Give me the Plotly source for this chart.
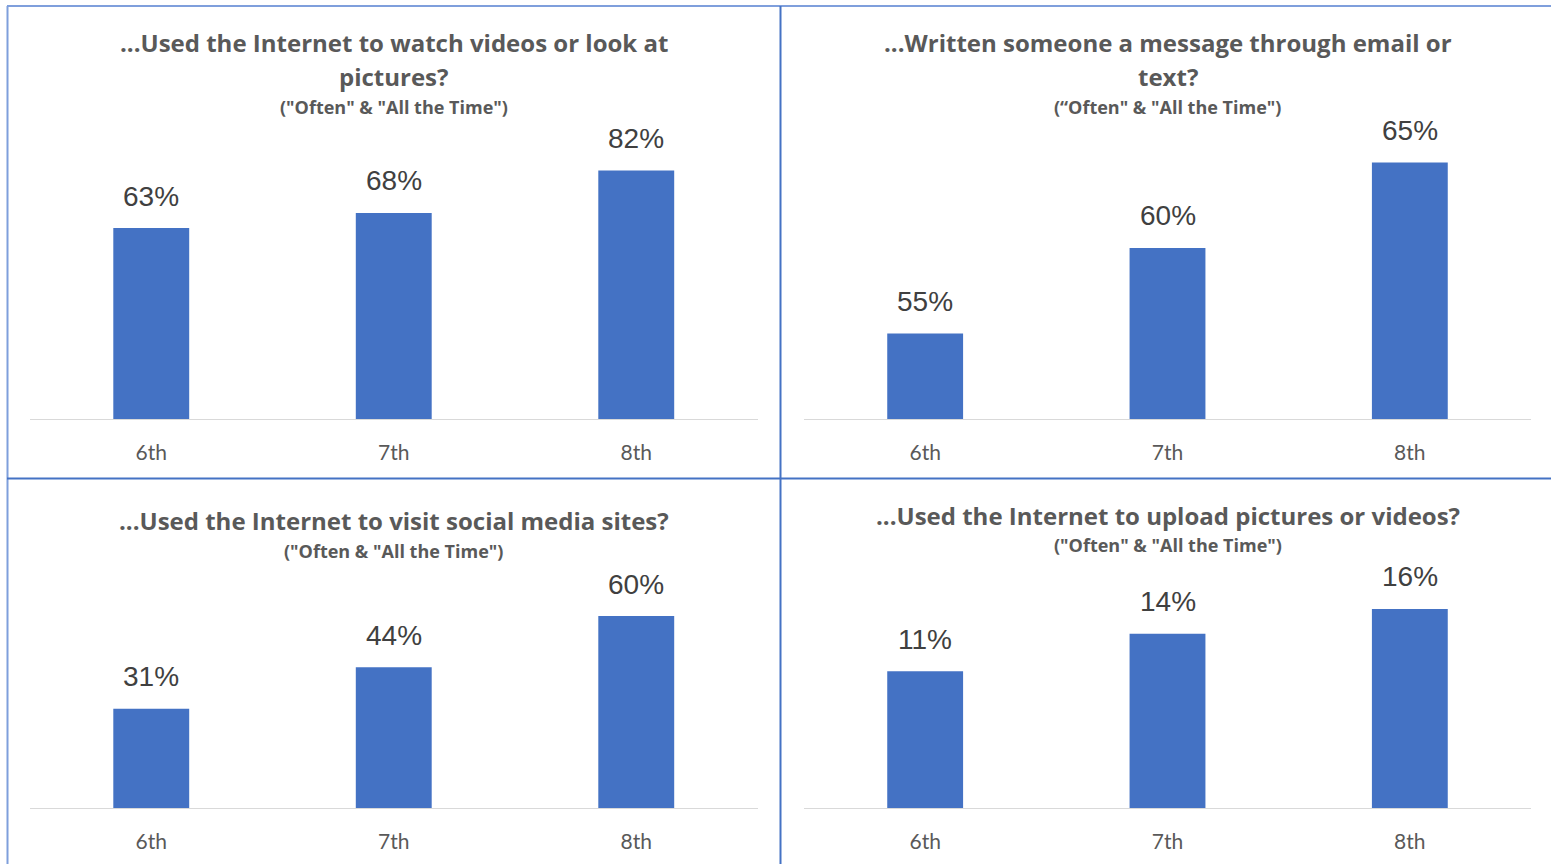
import plotly.graph_objects as go

W, H = 1551, 864

grades = ["6th", "7th", "8th"]
titles = [
    ["...Used the Internet to watch videos or look at", "pictures?"],
    ["...Written someone a message through email or", "text?"],
    ["...Used the Internet to visit social media sites?"],
    ["...Used the Internet to upload pictures or videos?"],
]
subtitles = [
    '("Often" & "All the Time")',
    '(\u201cOften" & "All the Time")',
    '("Often & "All the Time")',
    '("Often" & "All the Time")',
]
watch_videos = [63, 68, 82]
written_message = [55, 60, 65]
social_media = [31, 44, 60]
upload_pictures = [11, 14, 16]
series = [watch_videos, written_message, social_media, upload_pictures]
y_ranges = [[0, 90.1], [50, 65.96], [0, 71.25], [0, 18.33]]

BAR = "#4472C4"
TXT = "#595959"

def px_x(p):
    return p / W

def px_y(p):
    return 1 - p / H

x_doms = [[px_x(30), px_x(757.5)], [px_x(804), px_x(1531)]]
y_doms = [[px_y(419), px_y(146)], [px_y(808), px_y(580)]]

fig = go.Figure()
annotations = []
for i, vals in enumerate(series):
    col = i % 2
    row = i // 2
    n = i + 1
    xa = "x" if n == 1 else f"x{n}"
    ya = "y" if n == 1 else f"y{n}"
    fig.add_trace(go.Bar(x=grades, y=vals, marker=dict(color=BAR, line=dict(width=0)),
                         xaxis=xa, yaxis=ya, width=0.313, hoverinfo="skip", showlegend=False))
    xk = "xaxis" if n == 1 else f"xaxis{n}"
    yk = "yaxis" if n == 1 else f"yaxis{n}"
    fig.update_layout(**{
        xk: dict(domain=x_doms[col], anchor=ya, showline=True, linecolor="#D9D9D9", linewidth=1,
                 showgrid=False, zeroline=False, ticks="outside", ticklen=15,
                 tickcolor="rgba(0,0,0,0)",
                 tickfont=dict(family="Lato, Open Sans, sans-serif", size=21, color=TXT),
                 fixedrange=True),
        yk: dict(domain=y_doms[row], anchor=xa, range=y_ranges[i], visible=False,
                 showgrid=False, zeroline=False, fixedrange=True),
    })
    for g, v in zip(grades, vals):
        annotations.append(dict(x=g, y=v, xref=xa, yref=ya, text=f"{v}%", showarrow=False,
                                yanchor="middle", yshift=32,
                                font=dict(family="Liberation Sans, Arial, sans-serif", size=28, color="#404040")))
    cx = (x_doms[col][0] + x_doms[col][1]) / 2
    if row == 0:
        line_ys = [42, 77]
        sub_y = 107
    else:
        line_ys = [520] if col == 0 else [515]
        sub_y = 551 if col == 0 else 545
    for t, ly in zip(titles[i], line_ys):
        annotations.append(dict(x=cx, y=px_y(ly), xref="paper", yref="paper", text=f"<b>{t}</b>",
                                showarrow=False, xanchor="center", yanchor="middle",
                                font=dict(family="Open Sans, sans-serif", size=24, color=TXT)))
    annotations.append(dict(x=cx, y=px_y(sub_y), xref="paper", yref="paper", text=f"<b>{subtitles[i]}</b>",
                            showarrow=False, xanchor="center", yanchor="middle",
                            font=dict(family="Open Sans, sans-serif", size=18, color=TXT)))

shapes = [
    dict(type="line", xref="paper", yref="paper", x0=px_x(7), x1=1, y0=px_y(6), y1=px_y(6),
         line=dict(color="#7F9FDC", width=2)),
    dict(type="line", xref="paper", yref="paper", x0=px_x(7.5), x1=px_x(7.5), y0=px_y(6), y1=0,
         line=dict(color="#7F9FDC", width=2)),
    dict(type="line", xref="paper", yref="paper", x0=px_x(780.5), x1=px_x(780.5), y0=px_y(6), y1=0,
         line=dict(color="#4472C4", width=2)),
    dict(type="line", xref="paper", yref="paper", x0=px_x(7), x1=1, y0=px_y(478.5), y1=px_y(478.5),
         line=dict(color="#4472C4", width=2)),
]

fig.update_layout(width=W, height=H, margin=dict(l=0, r=0, t=0, b=0),
                  paper_bgcolor="white", plot_bgcolor="white",
                  bargap=0.687, annotations=annotations, shapes=shapes, showlegend=False)

fig.write_html("out.html", config={"displayModeBar": False})
